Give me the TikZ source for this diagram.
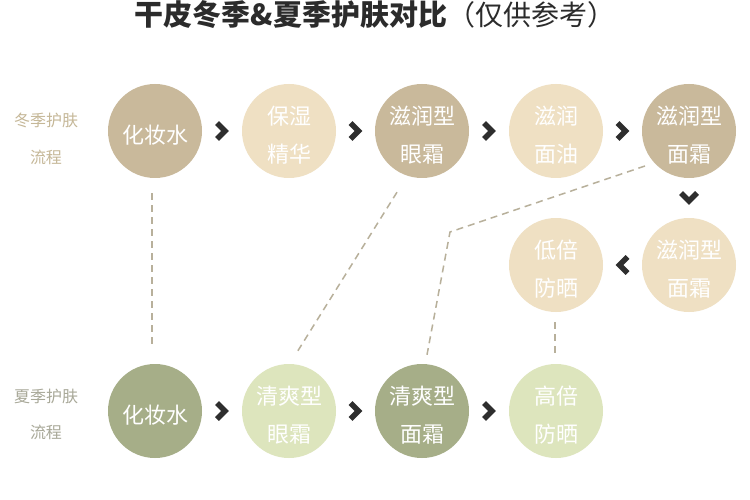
\documentclass[tikz,border=0pt]{standalone}
\usepackage{fontspec}
\newfontfamily\cjk{Noto Sans CJK SC}
\usetikzlibrary{calc}
\definecolor{tanD}{HTML}{C9B99B}
\definecolor{tanL}{HTML}{EFE0C3}
\definecolor{grnD}{HTML}{A6AE88}
\definecolor{grnL}{HTML}{DDE5BD}
\definecolor{chevc}{HTML}{2E2E2E}
\definecolor{dashc}{HTML}{B8B09B}
\definecolor{titc}{HTML}{2B2B2B}
\definecolor{wlab}{HTML}{C5B797}
\definecolor{slab}{HTML}{A8A898}
\tikzset{
  ball/.style={circle, minimum size=94pt, inner sep=0pt},
  txt/.style={text=white, align=center, inner sep=0pt, yshift=-4pt,
    font=\cjk\fontsize{22}{38}\selectfont},
  tand/.style={ball, fill=tanD},
  tanl/.style={ball, fill=tanL},
  grnd/.style={ball, fill=grnD},
  grnl/.style={ball, fill=grnL},
  side/.style={font=\cjk\fontsize{16}{16}\selectfont, inner sep=0pt},
  dashline/.style={draw=dashc, line width=1.5pt, dash pattern=on 7pt off 5pt},
  chev/.pic={\draw[line width=5.5pt, chevc, line join=miter, miter limit=10] (-5,-8)--(3,0)--(-5,8);}
}
\begin{document}
\begin{tikzpicture}[x=1pt,y=-1pt]
\path[fill=white,use as bounding box] (0,0) rectangle (750,500);
% title
\node[text=titc, font=\cjk\fontsize{29}{29}\selectfont, inner sep=0pt] (title) at (375,15)
  {\bfseries 干皮冬季\&夏季护肤对比{\mdseries\fontsize{28}{28}\selectfont （仅供参考）}};
% side labels
\node[side, text=wlab] (w1) at (46,120) {冬季护肤};
\node[side, text=wlab] (w2) at (46,157) {流程};
\node[side, text=slab] (s1) at (46,396) {夏季护肤};
\node[side, text=slab] (s2) at (46,432) {流程};
% winter row
\node[tand, label={[txt]center:化妆水}] (c1) at (155,131) {};
\node[tanl, label={[txt]center:保湿\\精华}] (c2) at (289,131) {};
\node[tand, label={[txt]center:滋润型\\眼霜}] (c3) at (422,131) {};
\node[tanl, label={[txt]center:滋润\\面油}] (c4) at (556,131) {};
\node[tand, label={[txt]center:滋润型\\面霜}] (c5) at (689,131) {};
\node[tanl, label={[txt]center:滋润型\\面霜}] (r2) at (689,265) {};
\node[tanl, label={[txt]center:低倍\\防晒}] (r1) at (556,265) {};
% summer row
\node[grnd, label={[txt]center:化妆水}] (d1) at (155,411) {};
\node[grnl, label={[txt]center:清爽型\\眼霜}] (d2) at (289,411) {};
\node[grnd, label={[txt]center:清爽型\\面霜}] (d3) at (422,411) {};
\node[grnl, label={[txt]center:高倍\\防晒}] (d4) at (556,411) {};
% chevrons
\path ($(c1)!0.5!(c2)$) pic {chev};
\path ($(c2)!0.5!(c3)$) pic {chev};
\path ($(c3)!0.5!(c4)$) pic {chev};
\path ($(c4)!0.5!(c5)$) pic {chev};
\path ($(c5)!0.5!(r2)$) pic[rotate=-90] {chev};
\path ($(r2)!0.5!(r1)$) pic[rotate=180] {chev};
\path ($(d1)!0.5!(d2)$) pic {chev};
\path ($(d2)!0.5!(d3)$) pic {chev};
\path ($(d3)!0.5!(d4)$) pic {chev};
% dashed links
\coordinate (m3) at (450,232);
\draw[dashline] ($(c1.south)+(-3,15)$) -- ($(d1.north)+(-3,-16)$);
\draw[dashline] ($(c3.south)+(-25,14)$) -- ($(d2.north)+(7,-10)$);
\draw[dashline] ($(c5)+(-44,35)$) -- (m3) -- ($(d3.north)+(5,-9)$);
\draw[dashline] ($(r1.south)+(-1,10)$) -- ($(d4.north)+(-1,-9)$);
\end{tikzpicture}
\end{document}
